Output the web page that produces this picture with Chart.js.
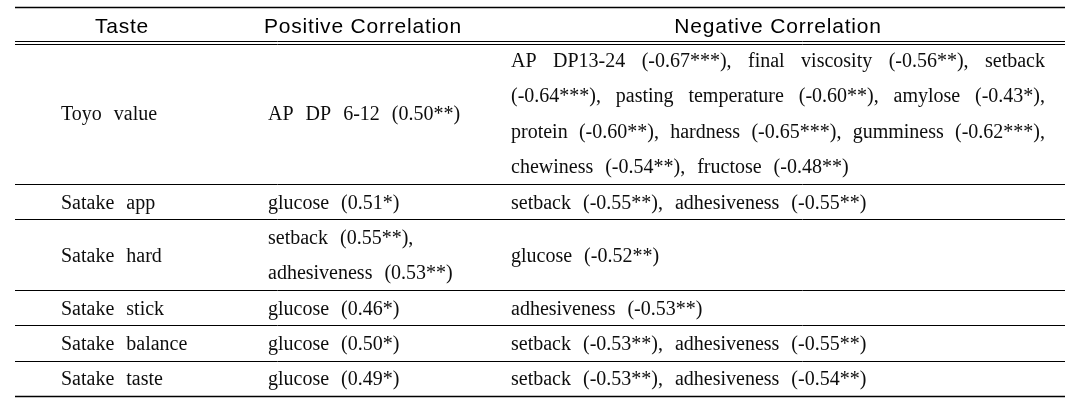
<!DOCTYPE html>
<html>
<head>
<meta charset="utf-8">
<script src="https://cdn.jsdelivr.net/npm/chart.js@4.4.1/dist/chart.umd.min.js"></script>
<style>
  html, body { margin: 0; padding: 0; background: #fff; }
  #wrap { width: 1087px; height: 410px; }
</style>
</head>
<body>
<div id="wrap"><canvas id="myChart" width="1087" height="410"></canvas></div>
<script>
const headers = ['Taste', 'Positive Correlation', 'Negative Correlation'];
const tastes = ['Toyo value', 'Satake app', 'Satake hard', 'Satake stick', 'Satake balance', 'Satake taste'];
const positive = [
  ['AP DP 6-12 (0.50**)'],
  ['glucose (0.51*)'],
  ['setback (0.55**),', 'adhesiveness (0.53**)'],
  ['glucose (0.46*)'],
  ['glucose (0.50*)'],
  ['glucose (0.49*)']
];
const negative = [
  ['AP DP13-24 (-0.67***), final viscosity (-0.56**), setback',
   '(-0.64***), pasting temperature (-0.60**), amylose (-0.43*),',
   'protein (-0.60**), hardness (-0.65***), gumminess (-0.62***),',
   'chewiness (-0.54**), fructose (-0.48**)'],
  ['setback (-0.55**), adhesiveness (-0.55**)'],
  ['glucose (-0.52**)'],
  ['adhesiveness (-0.53**)'],
  ['setback (-0.53**), adhesiveness (-0.55**)'],
  ['setback (-0.53**), adhesiveness (-0.54**)']
];

// row height = longest cell, counted in text lines (header = 1 line)
const rowLines = tastes.map((t, i) => Math.max(1, positive[i].length, negative[i].length));
const bounds = [0, 1];
rowLines.forEach(n => bounds.push(bounds[bounds.length - 1] + n));
const totalLines = bounds[bounds.length - 1];

// x scale runs 0..1050 across the table
const colText = [46, 253, 496];
const colHead = [107, 348, 763];
const colRight = 1030;

const headCells = headers.map((h, c) => ({ x: colHead[c], y: 0.5, lines: [h] }));
const bodyCells = [];
tastes.forEach((t, r) => {
  const mid = bounds[r + 1] + rowLines[r] / 2;
  bodyCells.push({ x: colText[0], y: mid, lines: [t] });
  bodyCells.push({ x: colText[1], y: mid, lines: positive[r] });
  bodyCells.push({ x: colText[2], y: mid, lines: negative[r] });
});

function drawWords(ctx, text, x, y, justifyTo) {
  const words = text.split(' ');
  const widths = words.map(w => ctx.measureText(w).width);
  const sum = widths.reduce((a, b) => a + b, 0);
  let gap = ctx.measureText(' ').width + 7;
  if (justifyTo && words.length > 1) gap = (justifyTo - x - sum) / (words.length - 1);
  let cx = x;
  words.forEach((w, i) => {
    ctx.fillText(w, cx, y);
    cx += widths[i] + gap;
  });
}

const tablePlugin = {
  id: 'tablePlugin',
  afterDatasetsDraw(chart) {
    const ctx = chart.ctx;
    const { left, right } = chart.chartArea;
    const ys = chart.scales.y;
    const xs = chart.scales.x;
    const lineH = Math.abs(ys.getPixelForValue(1) - ys.getPixelForValue(0));
    ctx.save();
    ctx.strokeStyle = '#000';
    bounds.forEach((b, i) => {
      const py = ys.getPixelForValue(b);
      const edge = (i === 0 || i === bounds.length - 1);
      ctx.lineWidth = edge ? 1.6 : 1;
      const offs = (i === 1) ? [-1.3, 1.3] : [0];
      offs.forEach(o => {
        ctx.beginPath();
        ctx.moveTo(left, Math.round(py + o) + 0.5);
        ctx.lineTo(right, Math.round(py + o) + 0.5);
        ctx.stroke();
      });
    });

    // header
    const hMeta = chart.getDatasetMeta(0);
    ctx.fillStyle = '#000';
    ctx.font = '21px "Liberation Sans", Arial, sans-serif';
    ctx.letterSpacing = '0.8px';
    ctx.textAlign = 'center';
    ctx.textBaseline = 'alphabetic';
    hMeta.data.forEach((el, i) => {
      const cell = chart.data.datasets[0].data[i];
      ctx.fillText(cell.lines[0], el.x, el.y + 8);
    });

    // body
    const bMeta = chart.getDatasetMeta(1);
    ctx.fillStyle = '#0d0d0d';
    ctx.font = '20px "Liberation Serif", "Times New Roman", serif';
    ctx.letterSpacing = '0px';
    ctx.textAlign = 'left';
    const rightPx = xs.getPixelForValue(colRight);
    bMeta.data.forEach((el, i) => {
      const cell = chart.data.datasets[1].data[i];
      const n = cell.lines.length;
      cell.lines.forEach((ln, k) => {
        const py = el.y + (k - (n - 1) / 2) * lineH + 7;
        let just = null;
        if (n > 1 && k < n - 1) {
          const natural = ctx.measureText(ln).width;
          if (natural > 0.8 * (rightPx - el.x)) just = rightPx;
        }
        drawWords(ctx, ln, el.x, py, just);
      });
    });
    ctx.restore();
  }
};

new Chart(document.getElementById('myChart'), {
  type: 'scatter',
  data: {
    datasets: [
      { label: 'header', data: headCells, pointRadius: 0 },
      { label: 'cells', data: bodyCells, pointRadius: 0 }
    ]
  },
  options: {
    responsive: false,
    animation: false,
    events: [],
    layout: { padding: { left: 15, right: 22, top: 7, bottom: 14 } },
    scales: {
      x: { type: 'linear', min: 0, max: 1050, display: false },
      y: { type: 'linear', min: 0, max: totalLines, reverse: true, display: false }
    },
    plugins: { legend: { display: false }, tooltip: { enabled: false } }
  },
  plugins: [tablePlugin]
});
</script>
</body>
</html>
